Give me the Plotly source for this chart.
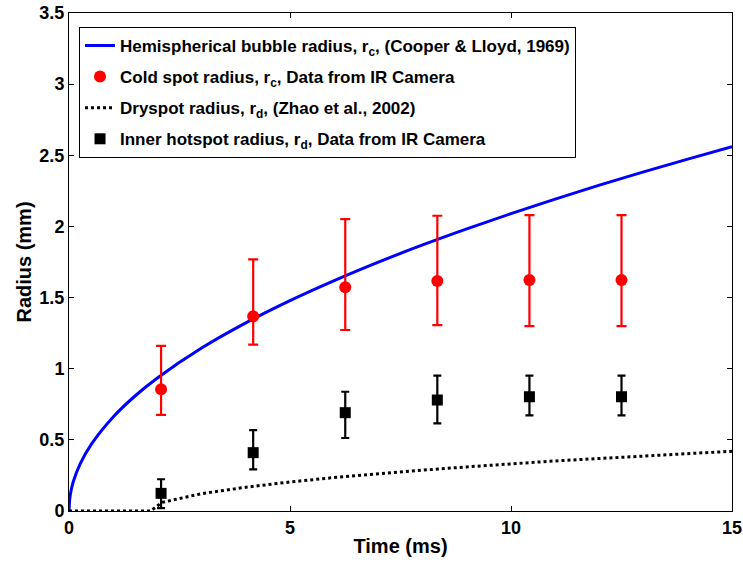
import plotly.graph_objects as go

# Hemispherical bubble radius (Cooper & Lloyd, 1969)
bubble_t = [0, 0.02, 0.05, 0.1, 0.25, 0.5, 1, 1.5, 2, 3, 4, 5, 6, 7, 8, 9, 10, 11, 12, 13, 14, 15]
bubble_r = [0, 0.093, 0.148, 0.209, 0.33, 0.467, 0.661, 0.81, 0.935, 1.145, 1.322, 1.478,
            1.619, 1.749, 1.87, 1.983, 2.09, 2.192, 2.29, 2.383, 2.473, 2.56]

# Dryspot radius (Zhao et al., 2002)
dry_t = [0, 1.85, 2.1, 3, 4, 5, 6, 7, 8, 9, 10, 11, 12, 13, 14, 15]
dry_r = [0, 0, 0.06, 0.122, 0.167, 0.204, 0.235, 0.263, 0.287, 0.31, 0.332, 0.352,
         0.369, 0.387, 0.404, 0.42]

# IR camera measurements
frame_t = [2.083, 4.167, 6.25, 8.333, 10.417, 12.5]
cold_r = [0.855, 1.368, 1.572, 1.616, 1.623, 1.623]
cold_hi = [1.16, 1.769, 2.052, 2.075, 2.08, 2.08]
cold_lo = [0.675, 1.169, 1.272, 1.307, 1.30, 1.30]
hot_r = [0.124, 0.41, 0.691, 0.78, 0.803, 0.803]
hot_hi = [0.223, 0.569, 0.838, 0.951, 0.951, 0.951]
hot_lo = [0.02, 0.293, 0.513, 0.616, 0.672, 0.672]

x_ticks = [0, 5, 10, 15]
y_ticks = [0, 0.5, 1, 1.5, 2, 2.5, 3, 3.5]
y_tick_text = ["0", "0.5", "1", "1.5", "2", "2.5", "3", "3.5"]

FONT = "Liberation Sans, Arial, Helvetica, sans-serif"

fig = go.Figure()

fig.add_trace(go.Scatter(
    x=bubble_t, y=bubble_r, mode="lines", line=dict(color="#0000ff", width=3, shape="spline"),
    name="Hemispherical bubble radius, r<sub>c</sub>, (Cooper & Lloyd, 1969)", legendgroup="a"))

fig.add_trace(go.Scatter(
    x=frame_t, y=cold_r, mode="markers",
    marker=dict(color="#ff0000", size=12, symbol="circle"),
    error_y=dict(type="data", symmetric=False,
                 array=[h - v for h, v in zip(cold_hi, cold_r)],
                 arrayminus=[v - l for v, l in zip(cold_r, cold_lo)],
                 color="#ff0000", thickness=2.2, width=5),
    name="Cold spot radius, r<sub>c</sub>, Data from IR Camera", legendgroup="b"))

fig.add_trace(go.Scatter(
    x=dry_t, y=dry_r, mode="lines", line=dict(color="black", width=3, dash="dot"),
    name="Dryspot radius, r<sub>d</sub>, (Zhao et al., 2002)", legendgroup="c"))

fig.add_trace(go.Scatter(
    x=frame_t, y=hot_r, mode="markers",
    marker=dict(color="black", size=11, symbol="square"),
    error_y=dict(type="data", symmetric=False,
                 array=[h - v for h, v in zip(hot_hi, hot_r)],
                 arrayminus=[v - l for v, l in zip(hot_r, hot_lo)],
                 color="black", thickness=2.2, width=4),
    name="Inner hotspot radius, r<sub>d</sub>, Data from IR Camera", legendgroup="d"))

axis_common = dict(
    showline=True, linecolor="black", linewidth=1, mirror="ticks",
    ticks="inside", ticklen=5, tickwidth=1, tickcolor="black",
    showgrid=False, zeroline=False, automargin=False,
    tickfont=dict(family=FONT, size=18, color="black", weight="bold"),
    title_font=dict(family=FONT, size=20, color="black", weight="bold"),
)

fig.update_xaxes(range=[0, 15], tickvals=x_ticks, title_text="Time (ms)",
                 title_standoff=2, **axis_common)
fig.update_yaxes(range=[0, 3.5], tickvals=y_ticks, ticktext=y_tick_text,
                 title_text="Radius (mm)", title_standoff=2, **axis_common)

fig.update_layout(
    width=743, height=567,
    margin=dict(l=69, r=11, t=13, b=56),
    paper_bgcolor="white", plot_bgcolor="white",
    font=dict(family=FONT, color="black"),
    showlegend=True,
    legend=dict(
        x=0.0151, y=0.972, xanchor="left", yanchor="top",
        bgcolor="white", bordercolor="black", borderwidth=1,
        font=dict(family=FONT, size=17, color="black", weight="bold"),
        tracegroupgap=6, itemwidth=30,
    ),
)

fig.write_html("out.html")
